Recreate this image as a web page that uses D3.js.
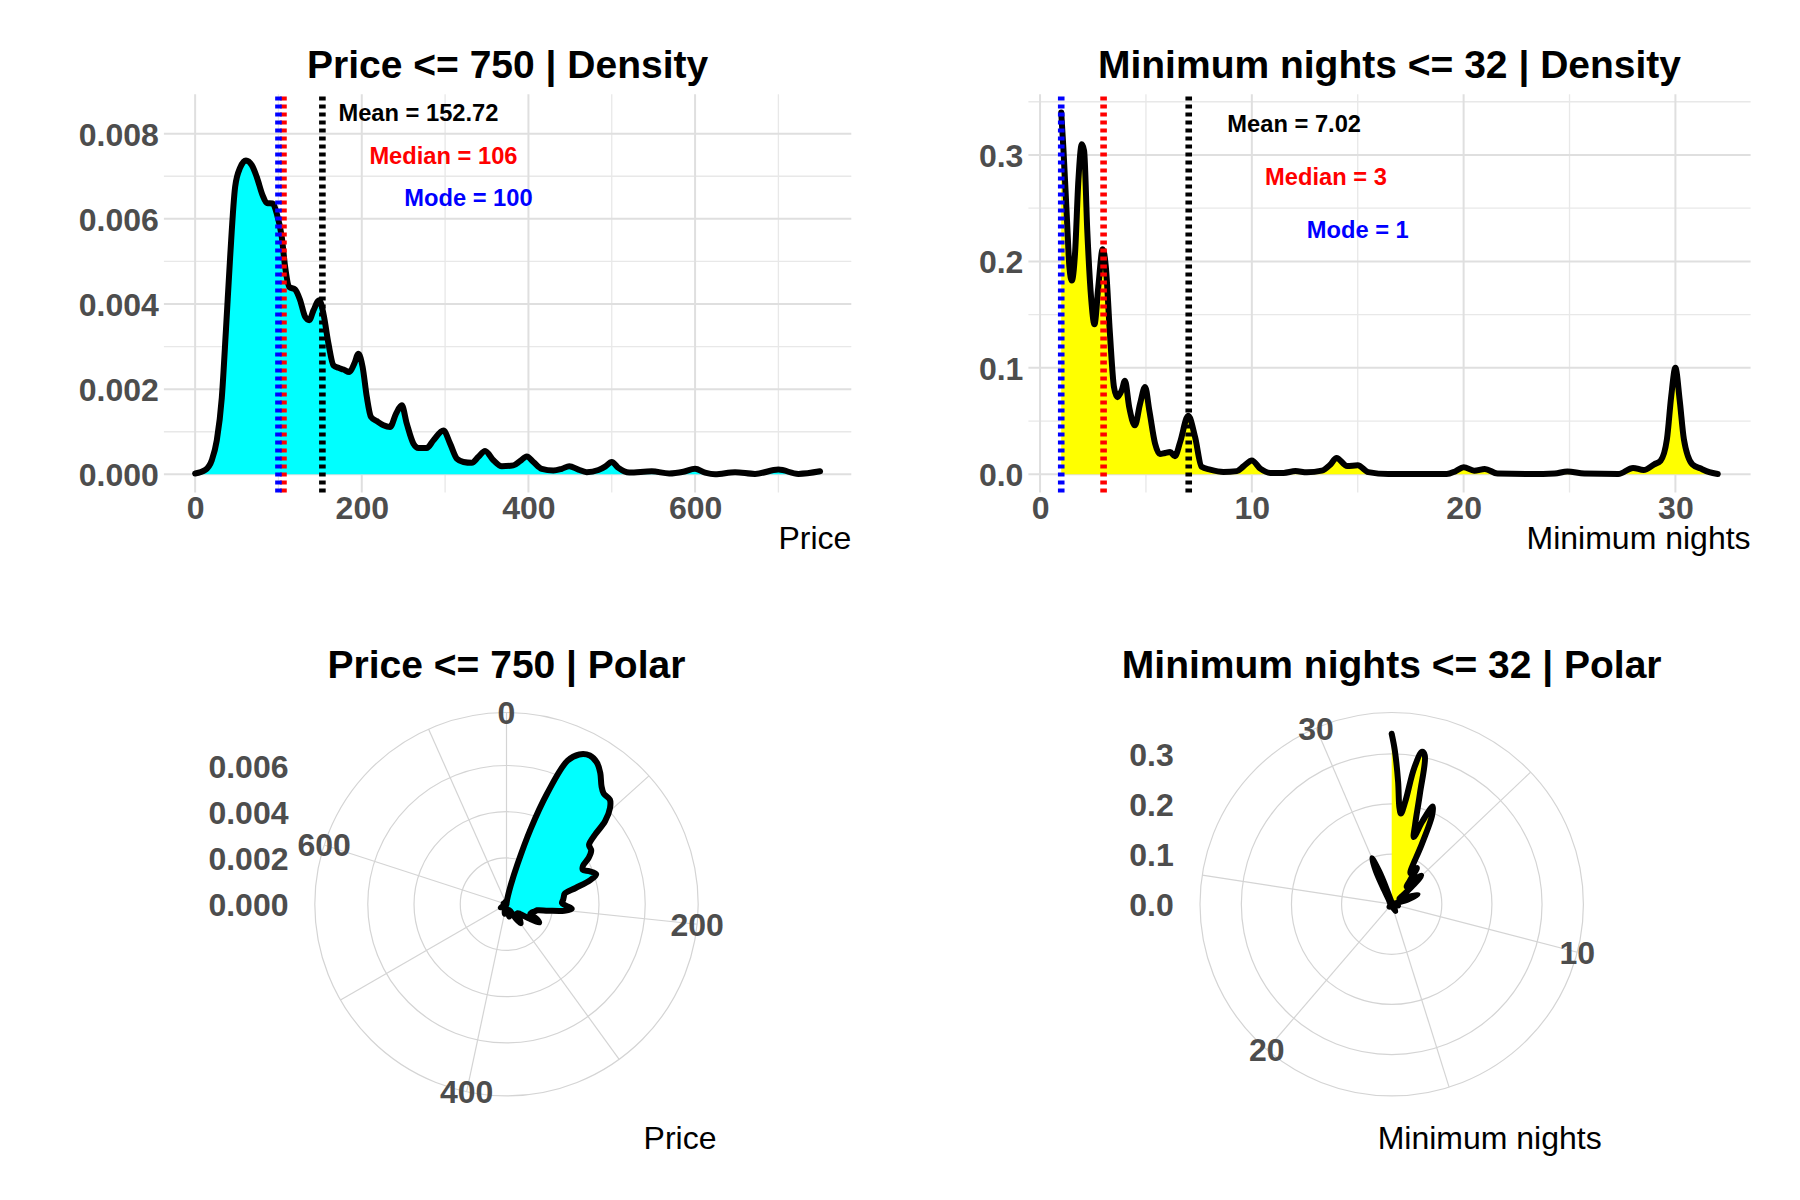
<!DOCTYPE html>
<html>
<head>
<meta charset="utf-8">
<script src="https://cdn.jsdelivr.net/npm/d3@7"></script>
<style>body{margin:0;background:#fff;}</style>
</head>
<body>
<svg id="chart" width="1800" height="1200"></svg>
<script>
// ---------------- data ----------------
const priceX = [0,12,20,26,32,37,42,48,54,61,68,74,81,86,93,98,104,108,113,120,126,132,137,142,149,154,160,166,172,178,185,191,196,201,206,211,218,226,234,241,248,254,262,268,278,286,298,306,314,322,332,340,348,358,368,382,390,398,406,416,430,440,449,460,470,484,492,500,508,521,548,569,586,600,612,624,648,672,700,724,750];
const priceDensity = [0.00002,0.0001,0.00033,0.0008,0.0018,0.0034,0.0051,0.00675,0.0072,0.00737,0.00726,0.00698,0.00655,0.00637,0.00636,0.00612,0.00557,0.00487,0.0044,0.00434,0.00409,0.0037,0.00362,0.00385,0.00409,0.00377,0.00307,0.00256,0.0025,0.00246,0.0024,0.0026,0.00283,0.00252,0.00182,0.00135,0.00125,0.00115,0.00111,0.00142,0.00162,0.00119,0.00072,0.00062,0.00062,0.0008,0.00103,0.00072,0.00037,0.00029,0.00027,0.00041,0.00055,0.00033,0.00019,0.00021,0.00031,0.00042,0.00029,0.00013,0.00009,0.00013,0.00019,0.00011,0.00005,0.0001,0.00018,0.00029,0.00015,0.00004,0.00007,0.00002,0.00006,0.00013,0.00004,0.0,0.00005,0.00001,0.00011,0.00001,0.00007];

const nightsX = [1,1.1,1.26,1.39,1.5,1.65,1.81,1.97,2.08,2.23,2.41,2.57,2.75,2.96,3.11,3.3,3.49,3.65,3.86,4.01,4.21,4.48,4.72,4.96,5.16,5.43,5.66,5.9,6.14,6.37,6.61,7.0,7.32,7.63,8.03,8.66,9.29,9.61,10,10.4,10.87,11.5,12.06,12.6,13.3,13.7,14,14.5,15,15.5,16.45,17.8,19.2,19.6,20,20.5,21,21.6,23.2,24.3,24.9,25.7,27.3,28,28.5,29,29.3,29.6,29.8,30,30.2,30.4,30.8,31.2,31.6,32];
const nightsDensity = [0.34,0.307,0.244,0.194,0.182,0.207,0.276,0.31,0.304,0.229,0.166,0.141,0.176,0.2115,0.194,0.132,0.082,0.0725,0.079,0.088,0.063,0.046,0.066,0.082,0.06,0.029,0.019,0.02,0.021,0.017,0.03,0.055,0.035,0.007,0.0044,0.0022,0.003,0.0075,0.013,0.0053,0.0013,0.0013,0.003,0.0019,0.0034,0.009,0.0154,0.0077,0.0084,0.002,0.0002,0.0003,0.0002,0.0027,0.0067,0.0034,0.005,0.0007,0.0002,0.0007,0.0027,0.0007,0.0003,0.006,0.004,0.0094,0.0128,0.033,0.073,0.1,0.07,0.033,0.0094,0.0054,0.002,0.0003];

const statNames = ["Mean", "Median", "Mode"];
const statColors = ["#000000", "#FF0000", "#0000FF"];

const priceStatValues = [152.72, 106, 100];
const priceStatText = ["152.72", "106", "100"];
const priceLabelX = [268, 298, 328];
const priceLabelY = [0.0085, 0.0075, 0.0065];

const nightsStatValues = [7.02, 3, 1];
const nightsStatText = ["7.02", "3", "1"];
const nightsLabelX = [12, 13.5, 15];
const nightsLabelY = [0.33, 0.28, 0.23];

const priceXTicks = [0, 200, 400, 600];
const priceXMinor = [100, 300, 500, 700];
const priceYTicks = [0, 0.002, 0.004, 0.006, 0.008];
const priceYMinor = [0.001, 0.003, 0.005, 0.007];
const nightsXTicks = [0, 10, 20, 30];
const nightsXMinor = [5, 15, 25];
const nightsYTicks = [0, 0.1, 0.2, 0.3];
const nightsYMinor = [0.05, 0.15, 0.25, 0.35];

const pricePolarRTicks = [0, 0.002, 0.004, 0.006];
const pricePolarThetaMajor = [0, 200, 400, 600];
const pricePolarThetaMinor = [100, 300, 500, 700];
const nightsPolarRTicks = [0, 0.1, 0.2, 0.3];
const nightsPolarThetaMajor = [10, 20, 30];
const nightsPolarThetaMinor = [5, 15, 25];

// ---------------- drawing ----------------
const svg = d3.select("#chart");
svg.append("rect").attr("width", 1800).attr("height", 1200).attr("fill", "#fff");
const FONT = "'Liberation Sans', Arial, Helvetica, sans-serif";
const AXIS_COL = "#4D4D4D";
const GRID_MAJ = "#DFDFDF", GRID_MIN = "#E8E8E8";
const POLAR_GRID = "#D4D4D4";
const CURVE_W = 6;

function styleAxis(sel) {
  sel.select(".domain").remove();
  sel.attr("font-family", FONT).attr("font-size", 32).attr("font-weight", "bold");
  sel.selectAll("text").attr("fill", AXIS_COL);
}

function cartesianPanel(o) {
  const x = d3.scaleLinear().domain(o.xDomain).range([o.left, o.right]);
  const y = d3.scaleLinear().domain(o.yDomain).range([o.bottom, o.top]);
  const g = svg.append("g");

  g.selectAll(null).data(o.yMinor).join("line")
    .attr("x1", o.left).attr("x2", o.right).attr("y1", d => y(d)).attr("y2", d => y(d))
    .attr("stroke", GRID_MIN).attr("stroke-width", 1.3);
  g.selectAll(null).data(o.xMinor).join("line")
    .attr("y1", o.top).attr("y2", o.bottom).attr("x1", d => x(d)).attr("x2", d => x(d))
    .attr("stroke", GRID_MIN).attr("stroke-width", 1.3);
  g.selectAll(null).data(o.yTicks).join("line")
    .attr("x1", o.left).attr("x2", o.right).attr("y1", d => y(d)).attr("y2", d => y(d))
    .attr("stroke", GRID_MAJ).attr("stroke-width", 2);
  g.selectAll(null).data(o.xTicks).join("line")
    .attr("y1", o.top).attr("y2", o.bottom).attr("x1", d => x(d)).attr("x2", d => x(d))
    .attr("stroke", GRID_MAJ).attr("stroke-width", 2);

  const pts = o.xs.map((v, i) => [v, o.ys[i]]);
  g.append("path").datum(pts)
    .attr("d", d3.area().x(d => x(d[0])).y0(y(0)).y1(d => y(d[1])).curve(d3.curveMonotoneX))
    .attr("fill", o.fill);
  g.append("path").datum(pts)
    .attr("d", d3.line().x(d => x(d[0])).y(d => y(d[1])).curve(d3.curveMonotoneX))
    .attr("fill", "none").attr("stroke", "#000").attr("stroke-width", CURVE_W)
    .attr("stroke-linejoin", "round").attr("stroke-linecap", "round");

  o.statValues.forEach((v, i) => {
    g.append("path").attr("d", `M${x(v)},${o.bottom}V${o.top}`)
      .attr("stroke", statColors[i]).attr("stroke-width", 6.6)
      .attr("stroke-dasharray", "4,4").attr("fill", "none");
  });

  o.statValues.forEach((v, i) => {
    g.append("text").attr("x", x(o.labelX[i])).attr("y", y(o.labelY[i])).attr("dy", "0.36em")
      .attr("text-anchor", "middle").attr("font-family", FONT).attr("font-weight", "bold")
      .attr("font-size", 23.7).attr("fill", statColors[i])
      .text(`${statNames[i]} = ${o.statText[i]}`);
  });

  svg.append("g").attr("transform", `translate(${o.left},0)`)
    .call(d3.axisLeft(y).tickValues(o.yTicks).tickFormat(o.yFmt).tickSize(0).tickPadding(5))
    .call(styleAxis)
    .selectAll("text").attr("dy", "0.36em");
  svg.append("g").attr("transform", `translate(0,${o.bottom})`)
    .call(d3.axisBottom(x).tickValues(o.xTicks).tickFormat(d3.format("d")).tickSize(0).tickPadding(4.3))
    .call(styleAxis);

  svg.append("text").attr("x", (o.left + o.right) / 2).attr("y", 78.3)
    .attr("text-anchor", "middle").attr("font-family", FONT).attr("font-weight", "bold")
    .attr("font-size", 39).attr("fill", "#000").text(o.title);
  svg.append("text").attr("x", o.right).attr("y", 549)
    .attr("text-anchor", "end").attr("font-family", FONT)
    .attr("font-size", 32).attr("fill", "#000").text(o.xTitle);
}

function polarPanel(o) {
  const size = 426, cy = 904.2, cx = o.cx;
  const rMax = 0.4 * size, rOuter = 0.45 * size;
  const theta = d3.scaleLinear().domain(o.thetaDomain).range([0, 2 * Math.PI]);
  const r = d3.scaleLinear().domain([0, d3.max(o.ys)]).range([0, rMax]);
  const g = svg.append("g").attr("transform", `translate(${cx},${cy})`);

  g.selectAll(null).data(o.rTicks.filter(v => v > 0)).join("circle")
    .attr("r", d => r(d)).attr("fill", "none").attr("stroke", POLAR_GRID).attr("stroke-width", 1.2);
  g.append("circle").attr("r", rOuter).attr("fill", "none").attr("stroke", POLAR_GRID).attr("stroke-width", 1.2);
  g.selectAll(null).data(o.thetaMajor.concat(o.thetaMinor)).join("line")
    .attr("x1", 0).attr("y1", 0)
    .attr("x2", d => rOuter * Math.sin(theta(d))).attr("y2", d => -rOuter * Math.cos(theta(d)))
    .attr("stroke", POLAR_GRID).attr("stroke-width", 1.2);

  const pts = o.xs.map((v, i) => [v, o.ys[i]]);
  const radial = d3.lineRadial().angle(d => theta(d[0])).radius(d => r(d[1]))
    .curve(d3.curveCatmullRom.alpha(0.5));
  g.append("path").attr("d", radial(pts) + "L0,0Z").attr("fill", o.fill);
  g.append("path").attr("d", radial(pts)).attr("fill", "none").attr("stroke", "#000")
    .attr("stroke-width", CURVE_W).attr("stroke-linejoin", "round").attr("stroke-linecap", "round");

  g.selectAll(null).data(o.thetaMajor).join("text")
    .attr("x", d => rOuter * Math.sin(theta(d))).attr("y", d => -rOuter * Math.cos(theta(d)))
    .attr("dy", "0.36em").attr("text-anchor", "middle")
    .attr("font-family", FONT).attr("font-weight", "bold").attr("font-size", 32).attr("fill", AXIS_COL)
    .text(d => d);

  const ry = d3.scaleLinear().domain(r.domain()).range([cy, cy - rMax]);
  svg.append("g").attr("transform", `translate(${cx - size / 2},0)`)
    .call(d3.axisLeft(ry).tickValues(o.rTicks).tickFormat(o.rFmt).tickSize(0).tickPadding(5))
    .call(styleAxis)
    .selectAll("text").attr("dy", "0.36em");

  svg.append("text").attr("x", cx).attr("y", 677.5)
    .attr("text-anchor", "middle").attr("font-family", FONT).attr("font-weight", "bold")
    .attr("font-size", 39).attr("fill", "#000").text(o.title);
  svg.append("text").attr("x", cx + size / 2 - 3).attr("y", 1149)
    .attr("text-anchor", "end").attr("font-family", FONT)
    .attr("font-size", 32).attr("fill", "#000").text(o.xTitle);
}

cartesianPanel({
  xs: priceX, ys: priceDensity, fill: "#00FFFF",
  xDomain: [-37.5, 787.5], yDomain: [-0.000425, 0.008925],
  left: 163.9, right: 851.3, top: 94.3, bottom: 492.4,
  xTicks: priceXTicks, xMinor: priceXMinor, yTicks: priceYTicks, yMinor: priceYMinor,
  yFmt: d3.format(".3f"),
  statValues: priceStatValues, statText: priceStatText, labelX: priceLabelX, labelY: priceLabelY,
  title: "Price <= 750 | Density", xTitle: "Price"
});

cartesianPanel({
  xs: nightsX, ys: nightsDensity, fill: "#FFFF00",
  xDomain: [-0.55, 33.55], yDomain: [-0.017, 0.357],
  left: 1028.4, right: 1750.6, top: 94.3, bottom: 492.4,
  xTicks: nightsXTicks, xMinor: nightsXMinor, yTicks: nightsYTicks, yMinor: nightsYMinor,
  yFmt: d3.format(".1f"),
  statValues: nightsStatValues, statText: nightsStatText, labelX: nightsLabelX, labelY: nightsLabelY,
  title: "Minimum nights <= 32 | Density", xTitle: "Minimum nights"
});

polarPanel({
  xs: priceX, ys: priceDensity, fill: "#00FFFF", cx: 506.5,
  thetaDomain: [0, 750], thetaMajor: pricePolarThetaMajor, thetaMinor: pricePolarThetaMinor,
  rTicks: pricePolarRTicks, rFmt: d3.format(".3f"),
  title: "Price <= 750 | Polar", xTitle: "Price"
});

polarPanel({
  xs: nightsX, ys: nightsDensity, fill: "#FFFF00", cx: 1391.7,
  thetaDomain: [1, 32], thetaMajor: nightsPolarThetaMajor, thetaMinor: nightsPolarThetaMinor,
  rTicks: nightsPolarRTicks, rFmt: d3.format(".1f"),
  title: "Minimum nights <= 32 | Polar", xTitle: "Minimum nights"
});
</script>
</body>
</html>
